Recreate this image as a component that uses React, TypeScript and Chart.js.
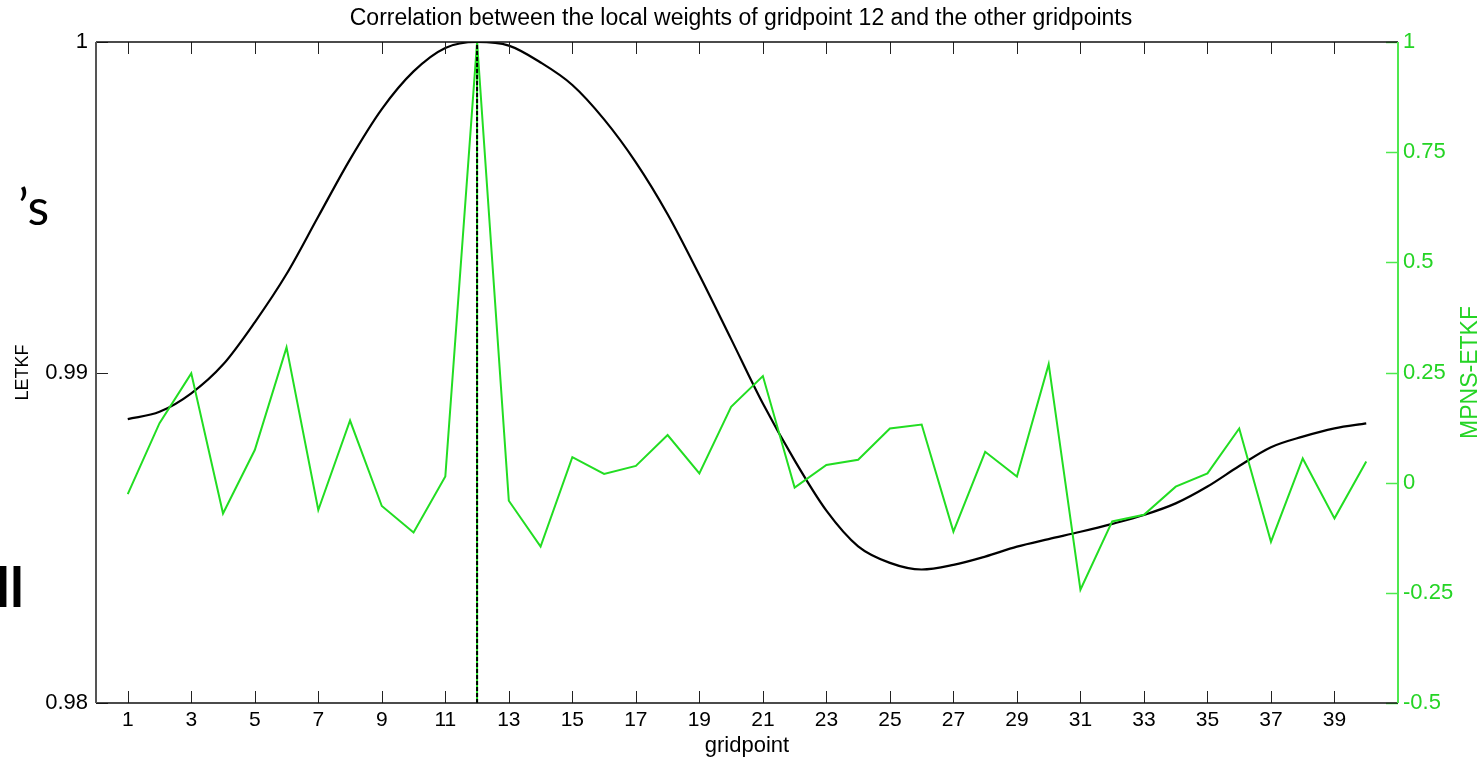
import React, { useEffect, useRef } from "react";
import { Chart, registerables } from "chart.js";

Chart.register(...registerables);

// ---------- data ----------
const gridpoints = [
  1, 2, 3, 4, 5, 6, 7, 8, 9, 10, 11, 12, 13, 14, 15, 16, 17, 18, 19, 20,
  21, 22, 23, 24, 25, 26, 27, 28, 29, 30, 31, 32, 33, 34, 35, 36, 37, 38, 39, 40,
];

const letkf = [
  0.98859, 0.98881, 0.98937, 0.99024, 0.99152, 0.99298, 0.99472, 0.99645, 0.99797, 0.99911,
  0.99982, 1.0, 0.99989, 0.99938, 0.9987, 0.99766, 0.99636, 0.99479, 0.99295, 0.99101,
  0.98906, 0.98734, 0.98582, 0.98474, 0.98424, 0.98404, 0.98418, 0.98443, 0.98473, 0.98496,
  0.98518, 0.98542, 0.98569, 0.98604, 0.98655, 0.98717, 0.98774, 0.98806, 0.98831, 0.98846,
];

const mpnsEtkf = [
  -0.026, 0.135, 0.248, -0.07, 0.074, 0.307, -0.062, 0.141, -0.053, -0.113,
  0.014, 1.0, -0.041, -0.145, 0.058, 0.02, 0.038, 0.108, 0.021, 0.172,
  0.242, -0.011, 0.04, 0.052, 0.123, 0.132, -0.111, 0.07, 0.014, 0.269,
  -0.243, -0.088, -0.073, -0.009, 0.021, 0.123, -0.134, 0.055, -0.081, 0.048,
];

const xTickValues = [1, 3, 5, 7, 9, 11, 13, 15, 17, 19, 21, 23, 25, 27, 29, 31, 33, 35, 37, 39];
const leftTickValues = [0.98, 0.99, 1];
const rightTickValues = [-0.5, -0.25, 0, 0.25, 0.5, 0.75, 1];
const markerGridpoint = 12;

const titleText = "Correlation between the local weights of gridpoint 12 and the other gridpoints";
const xTitle = "gridpoint";
const leftTitle = "LETKF";
const rightTitle = "MPNS-ETKF";
const slideFragments = ["\u2019s", "ll"];

// ---------- styles ----------
const FONT = "'Liberation Sans', Arial, sans-serif";
const GREEN_LINE = "#22dd22";
const GREEN_AXIS = "#4fe84f";
const GREEN_TEXT = "#24d424";

const framePlugin = {
  id: "frame",
  afterDatasetsDraw(chart: any) {
    const { ctx, chartArea, scales } = chart;
    const { left, right, top, bottom } = chartArea;
    const tick = 12;
    ctx.save();

    // x ticks (inward, bottom and top)
    ctx.strokeStyle = "#222";
    ctx.lineWidth = 1;
    for (const v of xTickValues) {
      const px = Math.round(scales.x.getPixelForValue(v)) + 0.5;
      ctx.beginPath();
      ctx.moveTo(px, bottom);
      ctx.lineTo(px, bottom - tick);
      ctx.moveTo(px, top);
      ctx.lineTo(px, top + tick);
      ctx.stroke();
    }
    // left ticks
    for (const v of leftTickValues) {
      const py = Math.round(scales.y.getPixelForValue(v)) + 0.5;
      ctx.beginPath();
      ctx.moveTo(left, py);
      ctx.lineTo(left + tick, py);
      ctx.stroke();
    }
    // right ticks
    ctx.strokeStyle = GREEN_AXIS;
    ctx.lineWidth = 1.5;
    for (const v of rightTickValues) {
      const py = Math.round(scales.y1.getPixelForValue(v)) + 0.5;
      ctx.beginPath();
      ctx.moveTo(right, py);
      ctx.lineTo(right - tick, py);
      ctx.stroke();
    }

    // frame
    ctx.lineWidth = 1.5;
    ctx.strokeStyle = "#111";
    ctx.beginPath();
    ctx.moveTo(left, top);
    ctx.lineTo(right, top);
    ctx.moveTo(left, bottom);
    ctx.lineTo(right, bottom);
    ctx.stroke();
    ctx.lineWidth = 2;
    ctx.strokeStyle = "#555";
    ctx.beginPath();
    ctx.moveTo(left, top);
    ctx.lineTo(left, bottom);
    ctx.stroke();
    ctx.strokeStyle = GREEN_AXIS;
    ctx.beginPath();
    ctx.moveTo(right, top);
    ctx.lineTo(right, bottom);
    ctx.stroke();

    // right axis title (reads bottom to top)
    ctx.fillStyle = GREEN_TEXT;
    ctx.font = `23px ${FONT}`;
    ctx.textAlign = "center";
    ctx.textBaseline = "middle";
    ctx.translate(scales.y1.right - 11, (top + bottom) / 2);
    ctx.rotate(-Math.PI / 2);
    ctx.fillText(rightTitle, 0, 0);
    ctx.restore();

    // fragments of the slide behind the chart
    ctx.save();
    ctx.fillStyle = "#000";
    ctx.textAlign = "left";
    ctx.textBaseline = "alphabetic";
    ctx.font = `50px Lato, 'Open Sans', sans-serif`;
    ctx.fillText(slideFragments[0], 18, 225);
    ctx.font = `bold 56px Lato, 'Open Sans', sans-serif`;
    ctx.fillText(slideFragments[1], -4, 607);
    ctx.restore();
  },
};

export default function App() {
  const canvasRef = useRef<HTMLCanvasElement | null>(null);

  useEffect(() => {
    const canvas = canvasRef.current;
    if (!canvas) return;

    const chart = new Chart(canvas, {
      type: "line",
      data: {
        datasets: [
          {
            label: "marker-dash",
            data: [
              { x: markerGridpoint, y: leftTickValues[0] },
              { x: markerGridpoint, y: leftTickValues[leftTickValues.length - 1] },
            ],
            yAxisID: "y",
            borderColor: "#000",
            borderWidth: 2,
            borderDash: [4, 2],
            pointRadius: 0,
            order: 0,
          },
          {
            label: "marker-base",
            data: [
              { x: markerGridpoint, y: leftTickValues[0] },
              { x: markerGridpoint, y: leftTickValues[leftTickValues.length - 1] },
            ],
            yAxisID: "y",
            borderColor: GREEN_LINE,
            borderWidth: 2,
            pointRadius: 0,
            order: 1,
          },
          {
            label: "MPNS-ETKF",
            data: gridpoints.map((g, i) => ({ x: g, y: mpnsEtkf[i] })),
            yAxisID: "y1",
            borderColor: GREEN_LINE,
            borderWidth: 2,
            pointRadius: 0,
            tension: 0,
            order: 2,
          },
          {
            label: "LETKF",
            data: gridpoints.map((g, i) => ({ x: g, y: letkf[i] })),
            yAxisID: "y",
            borderColor: "#000",
            borderWidth: 2.2,
            pointRadius: 0,
            cubicInterpolationMode: "monotone",
            order: 3,
          },
        ],
      },
      options: {
        animation: false,
        responsive: false,
        devicePixelRatio: 1,
        layout: { padding: 0 },
        plugins: {
          legend: { display: false },
          tooltip: { enabled: false },
          title: {
            display: true,
            text: titleText,
            color: "#000",
            font: { family: FONT, size: 23, weight: "normal", lineHeight: 1.2 },
            padding: { top: 5, bottom: 9.4 },
          },
        },
        scales: {
          x: {
            type: "linear",
            min: 0,
            max: 41,
            afterBuildTicks: (s: any) => {
              s.ticks = xTickValues.map((v) => ({ value: v }));
            },
            afterFit: (s: any) => {
              s.height = 57;
            },
            grid: { display: false, drawTicks: false },
            border: { display: false },
            ticks: {
              autoSkip: false,
              maxRotation: 0,
              padding: 5,
              color: "#000",
              font: { family: FONT, size: 21, lineHeight: 1.2 },
              callback: (v: any) => String(v),
            },
            title: {
              display: true,
              text: xTitle,
              color: "#000",
              font: { family: FONT, size: 22, lineHeight: 1.2 },
              padding: { top: 0, bottom: 1 },
            },
          },
          y: {
            type: "linear",
            position: "left",
            min: leftTickValues[0],
            max: leftTickValues[leftTickValues.length - 1],
            afterBuildTicks: (s: any) => {
              s.ticks = leftTickValues.map((v) => ({ value: v }));
            },
            afterFit: (s: any) => {
              s.width = 96;
            },
            grid: { display: false, drawTicks: false },
            border: { display: false },
            ticks: {
              padding: 8,
              color: "#000",
              font: { family: FONT, size: 22, lineHeight: 1.2 },
              callback: (v: any) => String(v),
            },
            title: {
              display: true,
              text: leftTitle,
              color: "#000",
              font: { family: FONT, size: 18, lineHeight: 1.2 },
              padding: { top: 12, bottom: 0 },
            },
          },
          y1: {
            type: "linear",
            position: "right",
            min: rightTickValues[0],
            max: rightTickValues[rightTickValues.length - 1],
            afterBuildTicks: (s: any) => {
              s.ticks = rightTickValues.map((v) => ({ value: v }));
            },
            afterFit: (s: any) => {
              s.width = 84;
            },
            grid: { display: false, drawTicks: false },
            border: { display: false },
            ticks: {
              padding: 5,
              color: GREEN_TEXT,
              font: { family: FONT, size: 22, lineHeight: 1.2 },
              callback: (v: any) => String(v),
            },
          },
        },
      },
      plugins: [framePlugin],
    } as any);

    return () => chart.destroy();
  }, []);

  return (
    <div style={{ position: "absolute", left: 0, top: 0, width: 1482, height: 760, background: "#fff" }}>
      <canvas ref={canvasRef} width={1482} height={760} style={{ display: "block", width: 1482, height: 760 }} />
    </div>
  );
}
